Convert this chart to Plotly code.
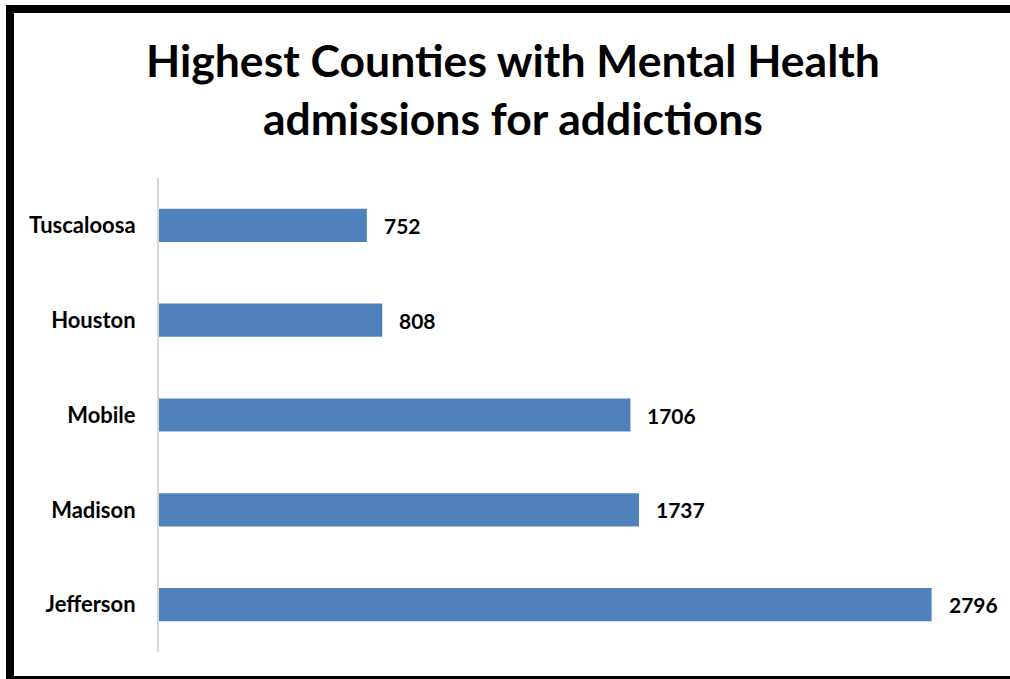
import plotly.graph_objects as go

counties = ["Jefferson", "Madison", "Mobile", "Houston", "Tuscaloosa"]
admissions = [2796, 1737, 1706, 808, 752]

W, H = 1010, 679
L, R, T, B = 159, 22, 178, 27
PW, PH = W - L - R, H - T - B


def px_x(x):
    return (x - L) / PW


def px_y(y):
    return (H - B - y) / PH


bar_color = "#4F81BD"
font_family = "Lato, 'Open Sans', sans-serif"

fig = go.Figure()
fig.add_trace(go.Bar(
    x=admissions,
    y=counties,
    orientation="h",
    width=0.35,
    marker=dict(color=bar_color, line=dict(width=0)),
    hoverinfo="skip",
))

annotations = [
    dict(x=v, y=c, xref="x", yref="y", text=f"<b>{v}</b>", showarrow=False,
         xanchor="left", yanchor="middle", xshift=15,
         font=dict(family=font_family, size=21, color="#000000"))
    for c, v in zip(counties, admissions)
]
annotations.append(dict(
    x=px_x(513), y=px_y(89), xref="paper", yref="paper",
    text="<b>Highest Counties with Mental Health<br>admissions for addictions</b>",
    showarrow=False, xanchor="center", yanchor="middle",
    font=dict(family=font_family, size=44.5, color="#000000"),
))

frame = [
    (6, 5, 14, 679),     # left edge
    (6, 5, 1010, 13),    # top edge
    (6, 676, 1010, 679), # bottom edge
]
shapes = [
    dict(type="rect", xref="paper", yref="paper",
         x0=px_x(x0), x1=px_x(x1), y0=px_y(y1), y1=px_y(y0),
         fillcolor="#000000", line=dict(width=0), layer="above")
    for x0, y0, x1, y1 in frame
]

fig.update_layout(
    width=W, height=H,
    margin=dict(l=L, r=R, t=T, b=B),
    paper_bgcolor="#FFFFFF",
    plot_bgcolor="#FFFFFF",
    showlegend=False,
    bargap=0.65,
    annotations=annotations,
    shapes=shapes,
    xaxis=dict(range=[0, 3000], showgrid=False, zeroline=False,
               showticklabels=False, ticks="", showline=False),
    yaxis=dict(showgrid=False, zeroline=False, ticks="",
               showline=True, linecolor="#D9D9D9", linewidth=2,
               ticklabelstandoff=17,
               tickfont=dict(family=font_family, size=22, color="#000000")),
)
fig.update_yaxes(tickvals=counties, ticktext=[f"<b>{c}</b>" for c in counties])

fig.write_html("out.html")
